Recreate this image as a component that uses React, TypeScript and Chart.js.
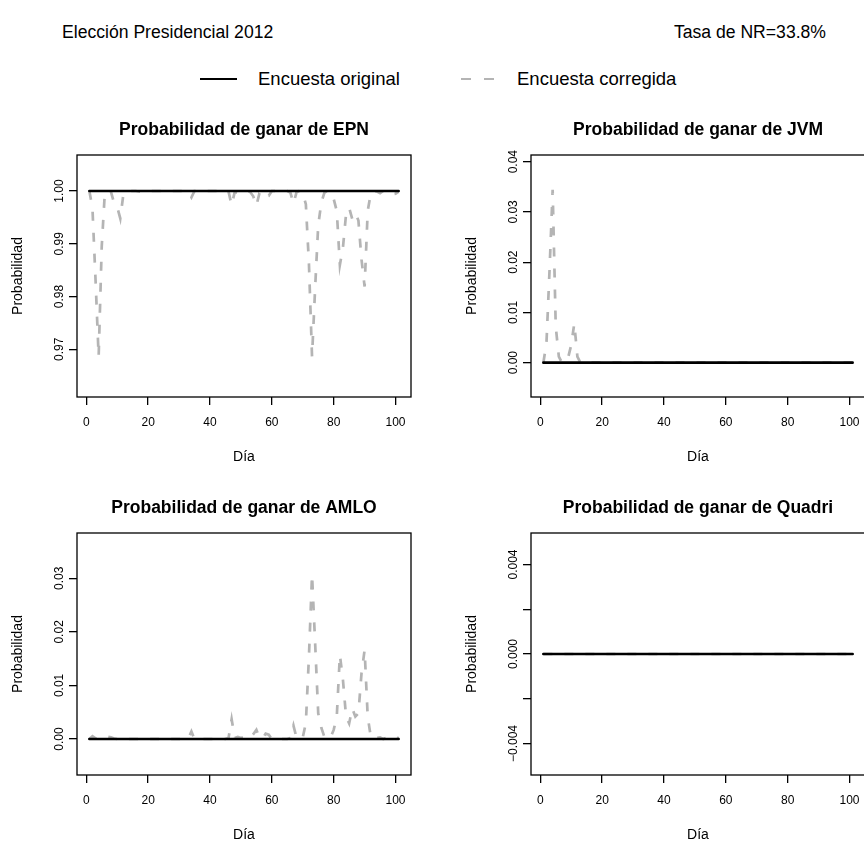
import React, { useEffect, useRef } from 'react';
import { Chart, registerables } from 'chart.js';

Chart.register(...registerables);

const FAMILY = '"Liberation Sans", Arial, Helvetica, sans-serif';
const GRAY = '#B4B4B4';

const HEADER_LEFT = 'Elección Presidencial 2012';
const HEADER_RIGHT = 'Tasa de NR=33.8%';
const SERIES_NAMES = ['Encuesta original', 'Encuesta corregida'];
const X_TITLE = 'Día';
const Y_TITLE = 'Probabilidad';

// Day index 1..101
const DAYS = Array.from({ length: 101 }, (_, i) => i + 1);
const X_TICKS = [0, 20, 40, 60, 80, 100];

const EPN_ORIGINAL = [
  1, 1, 1, 1, 1, 1, 1, 1, 1, 1, 1, 1, 1, 1, 1, 1, 1, 1, 1, 1,
  1, 1, 1, 1, 1, 1, 1, 1, 1, 1, 1, 1, 1, 1, 1, 1, 1, 1, 1, 1,
  1, 1, 1, 1, 1, 1, 1, 1, 1, 1, 1, 1, 1, 1, 1, 1, 1, 1, 1, 1,
  1, 1, 1, 1, 1, 1, 1, 1, 1, 1, 1, 1, 1, 1, 1, 1, 1, 1, 1, 1,
  1, 1, 1, 1, 1, 1, 1, 1, 1, 1, 1, 1, 1, 1, 1, 1, 1, 1, 1, 1,
  1,
];
const EPN_CORREGIDA = [
  1.0000, 0.9967, 0.9831, 0.9686, 0.9895, 0.9997, 1.0000, 0.9998, 0.9977, 0.9970,
  0.9948, 0.9994, 1.0000, 1.0000, 1.0000, 1.0000, 0.9999, 0.9998, 0.9999, 0.9998,
  1.0000, 1.0000, 1.0000, 1.0000, 1.0000, 1.0000, 1.0000, 1.0000, 1.0000, 1.0000,
  1.0000, 1.0000, 0.9998, 0.9988, 1.0000, 1.0000, 1.0000, 1.0000, 1.0000, 1.0000,
  1.0000, 1.0000, 1.0000, 1.0000, 1.0000, 0.9999, 0.9973, 0.9998, 0.9997, 0.9998,
  0.9997, 1.0000, 0.9998, 0.9990, 0.9972, 0.9996, 1.0000, 0.9992, 0.9991, 1.0000,
  1.0000, 1.0000, 1.0000, 1.0000, 1.0000, 0.9997, 0.9976, 0.9998, 1.0000, 0.9996,
  0.9975, 0.9862, 0.9686, 0.9816, 0.9935, 0.9978, 0.9997, 1.0000, 0.9997, 0.9985,
  0.9962, 0.9860, 0.9893, 0.9956, 0.9968, 0.9947, 0.9958, 0.9944, 0.9870, 0.9819,
  0.9962, 0.9996, 1.0000, 0.9999, 0.9996, 1.0000, 0.9998, 0.9997, 0.9994, 0.9995,
  0.9999,
];

const JVM_ORIGINAL = [
  0, 0, 0, 0, 0, 0, 0, 0, 0, 0, 0, 0, 0, 0, 0, 0, 0, 0, 0, 0,
  0, 0, 0, 0, 0, 0, 0, 0, 0, 0, 0, 0, 0, 0, 0, 0, 0, 0, 0, 0,
  0, 0, 0, 0, 0, 0, 0, 0, 0, 0, 0, 0, 0, 0, 0, 0, 0, 0, 0, 0,
  0, 0, 0, 0, 0, 0, 0, 0, 0, 0, 0, 0, 0, 0, 0, 0, 0, 0, 0, 0,
  0, 0, 0, 0, 0, 0, 0, 0, 0, 0, 0, 0, 0, 0, 0, 0, 0, 0, 0, 0,
  0,
];
const JVM_CORREGIDA = [
  0.0000, 0.0039, 0.0185, 0.0344, 0.0072, 0.0012, 0.0000, 0.0003, 0.0010, 0.0035,
  0.0078, 0.0012, 0.0000, 0, 0, 0, 0, 0, 0, 0,
  0, 0, 0, 0, 0, 0, 0, 0, 0, 0, 0, 0, 0, 0, 0, 0, 0, 0, 0, 0,
  0, 0, 0, 0, 0, 0, 0, 0, 0, 0, 0, 0, 0, 0, 0, 0, 0, 0, 0, 0,
  0, 0, 0, 0, 0, 0, 0, 0, 0, 0, 0, 0, 0, 0, 0, 0, 0, 0, 0, 0,
  0, 0, 0, 0, 0, 0, 0, 0, 0, 0, 0, 0, 0, 0, 0, 0, 0, 0, 0, 0,
  0,
];

const AMLO_ORIGINAL = [
  0, 0, 0, 0, 0, 0, 0, 0, 0, 0, 0, 0, 0, 0, 0, 0, 0, 0, 0, 0,
  0, 0, 0, 0, 0, 0, 0, 0, 0, 0, 0, 0, 0, 0, 0, 0, 0, 0, 0, 0,
  0, 0, 0, 0, 0, 0, 0, 0, 0, 0, 0, 0, 0, 0, 0, 0, 0, 0, 0, 0,
  0, 0, 0, 0, 0, 0, 0, 0, 0, 0, 0, 0, 0, 0, 0, 0, 0, 0, 0, 0,
  0, 0, 0, 0, 0, 0, 0, 0, 0, 0, 0, 0, 0, 0, 0, 0, 0, 0, 0, 0,
  0,
];
const AMLO_CORREGIDA = [
  0.0000, 0.0005, 0.0001, 0.0000, 0.0000, 0.0002, 0.0004, 0.0003, 0.0001, 0.0000,
  0, 0, 0, 0, 0, 0, 0, 0, 0, 0,
  0, 0, 0, 0, 0, 0, 0, 0, 0, 0,
  0, 0, 0.0001, 0.0014, 0, 0, 0, 0, 0, 0,
  0, 0, 0, 0, 0, 0.0002, 0.0037, 0.0002, 0.0004, 0.0002,
  0.0003, 0.0000, 0.0002, 0.0009, 0.0017, 0.0002, 0.0001, 0.0010, 0.0008, 0.0000,
  0, 0, 0, 0, 0, 0.0002, 0.0025, 0.0002, 0.0000, 0.0003,
  0.0030, 0.0154, 0.0307, 0.0179, 0.0048, 0.0021, 0.0004, 0.0000, 0.0003, 0.0017,
  0.0042, 0.0157, 0.0110, 0.0042, 0.0029, 0.0057, 0.0042, 0.0048, 0.0123, 0.0166,
  0.0042, 0.0004, 0.0000, 0.0002, 0.0003, 0.0000, 0.0002, 0.0004, 0.0006, 0.0005,
  0.0001,
];

const QUADRI_ORIGINAL = [
  0, 0, 0, 0, 0, 0, 0, 0, 0, 0, 0, 0, 0, 0, 0, 0, 0, 0, 0, 0,
  0, 0, 0, 0, 0, 0, 0, 0, 0, 0, 0, 0, 0, 0, 0, 0, 0, 0, 0, 0,
  0, 0, 0, 0, 0, 0, 0, 0, 0, 0, 0, 0, 0, 0, 0, 0, 0, 0, 0, 0,
  0, 0, 0, 0, 0, 0, 0, 0, 0, 0, 0, 0, 0, 0, 0, 0, 0, 0, 0, 0,
  0, 0, 0, 0, 0, 0, 0, 0, 0, 0, 0, 0, 0, 0, 0, 0, 0, 0, 0, 0,
  0,
];
const QUADRI_CORREGIDA = [
  0, 0, 0, 0, 0, 0, 0, 0, 0, 0, 0, 0, 0, 0, 0, 0, 0, 0, 0, 0,
  0, 0, 0, 0, 0, 0, 0, 0, 0, 0, 0, 0, 0, 0, 0, 0, 0, 0, 0, 0,
  0, 0, 0, 0, 0, 0, 0, 0, 0, 0, 0, 0, 0, 0, 0, 0, 0, 0, 0, 0,
  0, 0, 0, 0, 0, 0, 0, 0, 0, 0, 0, 0, 0, 0, 0, 0, 0, 0, 0, 0,
  0, 0, 0, 0, 0, 0, 0, 0, 0, 0, 0, 0, 0, 0, 0, 0, 0, 0, 0, 0,
  0,
];

const EPN_Y_TICKS = [0.97, 0.98, 0.99, 1.0];
const EPN_Y_LABELS = ['0.97', '0.98', '0.99', '1.00'];
const JVM_Y_TICKS = [0, 0.01, 0.02, 0.03, 0.04];
const JVM_Y_LABELS = ['0.00', '0.01', '0.02', '0.03', '0.04'];
const AMLO_Y_TICKS = [0, 0.01, 0.02, 0.03];
const AMLO_Y_LABELS = ['0.00', '0.01', '0.02', '0.03'];
const QUADRI_Y_TICKS = [-0.004, -0.002, 0, 0.002, 0.004];
const QUADRI_Y_LABELS = ['\u22120.004', '', '0.000', '', '0.004'];

const boxPlugin = {
  id: 'panelBox',
  afterDraw(chart: any) {
    const { ctx, chartArea: a } = chart;
    ctx.save();
    ctx.strokeStyle = '#000';
    ctx.lineWidth = 1.3;
    ctx.strokeRect(a.left, a.top, a.right - a.left, a.bottom - a.top);
    ctx.restore();
  },
};

type PanelProps = {
  title: string;
  original: number[];
  corrected: number[];
  yMin: number;
  yMax: number;
  yTicks: number[];
  yLabels: string[];
  left: number;
  top: number;
};

const CANVAS_W = 454;
const CANVAS_H = 370;
const TICK_SIZE = 12;
const LAB_SIZE = 14;
const MAIN_SIZE = 17.5;

function Panel(p: PanelProps) {
  const ref = useRef<HTMLCanvasElement>(null);
  useEffect(() => {
    const canvas = ref.current!;
    const m = document.createElement('canvas').getContext('2d')!;
    m.font = `normal ${TICK_SIZE}px ${FAMILY}`;
    const widest = Math.max(...p.yLabels.map((l) => m.measureText(l).width));
    const tickFont = { family: FAMILY, size: TICK_SIZE };
    const labFont = { family: FAMILY, size: LAB_SIZE };
    const chart = new Chart(canvas, {
      type: 'line',
      data: {
        datasets: [
          {
            label: SERIES_NAMES[0],
            data: DAYS.map((d, i) => ({ x: d, y: p.original[i] })),
            borderColor: '#000',
            borderWidth: 2.7,
            pointRadius: 0,
            tension: 0,
            borderCapStyle: 'round',
          },
          {
            label: SERIES_NAMES[1],
            data: DAYS.map((d, i) => ({ x: d, y: p.corrected[i] })),
            borderColor: GRAY,
            borderWidth: 2.7,
            borderDash: [9, 12],
            pointRadius: 0,
            tension: 0,
          },
        ],
      },
      options: {
        responsive: false,
        animation: false,
        events: [],
        layout: { padding: { left: 0, right: 43, top: 0, bottom: 0 } },
        plugins: {
          legend: { display: false },
          tooltip: { enabled: false },
          title: {
            display: true,
            fullSize: false,
            text: p.title,
            color: '#000',
            font: { family: FAMILY, size: MAIN_SIZE, weight: 'bold', lineHeight: 1.2 },
            padding: { top: 9.5, bottom: 14.5 },
          },
        },
        scales: {
          x: {
            type: 'linear',
            min: -3,
            max: 105,
            afterFit: (s: any) => {
              s.height = 83;
            },
            afterBuildTicks: (s: any) => {
              s.ticks = X_TICKS.map((v) => ({ value: v }));
            },
            ticks: {
              autoSkip: false,
              minRotation: 0,
              maxRotation: 0,
              padding: 10.8,
              color: '#000',
              font: tickFont,
              callback: (v: any) => String(v),
            },
            grid: {
              display: true,
              drawOnChartArea: false,
              drawTicks: true,
              tickLength: 8,
              color: '#000',
              lineWidth: 1.3,
            },
            border: { display: false },
            title: {
              display: true,
              text: X_TITLE,
              color: '#000',
              font: labFont,
              padding: { top: 0, bottom: 14.6 },
            },
          },
          y: {
            type: 'linear',
            min: p.yMin,
            max: p.yMax,
            afterFit: (s: any) => {
              s.width = 77;
            },
            afterBuildTicks: (s: any) => {
              s.ticks = p.yTicks.map((v) => ({ value: v }));
            },
            ticks: {
              autoSkip: false,
              minRotation: 90,
              maxRotation: 90,
              crossAlign: 'center',
              padding: 17 - 8 - widest / 2,
              color: '#000',
              font: tickFont,
              callback: (v: any) => {
                const i = p.yTicks.findIndex((t) => Math.abs(t - v) < 1e-9);
                return i >= 0 ? p.yLabels[i] : '';
              },
            },
            grid: {
              display: true,
              drawOnChartArea: false,
              drawTicks: true,
              tickLength: 8,
              color: '#000',
              lineWidth: 1.3,
            },
            border: { display: false },
            title: {
              display: true,
              text: Y_TITLE,
              color: '#000',
              font: labFont,
              padding: { top: 9.6, bottom: 0 },
            },
          },
        },
      } as any,
      plugins: [boxPlugin],
    });
    return () => chart.destroy();
  }, []);
  return (
    <canvas
      ref={ref}
      width={CANVAS_W}
      height={CANVAS_H}
      style={{ position: 'absolute', left: p.left, top: p.top, width: CANVAS_W, height: CANVAS_H }}
    />
  );
}

export default function App() {
  const text: React.CSSProperties = {
    position: 'absolute',
    fontSize: 17.6,
    lineHeight: '20px',
    color: '#000',
    whiteSpace: 'nowrap',
  };
  const legendText: React.CSSProperties = { ...text, fontSize: 18.5 };
  return (
    <div
      style={{
        position: 'absolute',
        left: 0,
        top: 0,
        width: 864,
        height: 844,
        overflow: 'hidden',
        background: '#fff',
        fontFamily: FAMILY,
      }}
    >
      <div style={{ ...text, left: 62, top: 22 }}>{HEADER_LEFT}</div>
      <div style={{ ...text, right: 38, top: 22 }}>{HEADER_RIGHT}</div>

      <div style={{ position: 'absolute', left: 200, top: 77.6, width: 37, height: 2.7, background: '#000' }} />
      <div style={{ ...legendText, left: 258, top: 69 }}>{SERIES_NAMES[0]}</div>
      <div
        style={{
          position: 'absolute',
          left: 461,
          top: 77.6,
          width: 33,
          height: 2.7,
          background: `repeating-linear-gradient(to right, ${GRAY} 0px, ${GRAY} 10px, transparent 10px, transparent 23px)`,
        }}
      />
      <div style={{ ...legendText, left: 517, top: 69 }}>{SERIES_NAMES[1]}</div>

      <Panel title="Probabilidad de ganar de EPN" original={EPN_ORIGINAL} corrected={EPN_CORREGIDA}
        yMin={0.96096} yMax={1.00682} yTicks={EPN_Y_TICKS} yLabels={EPN_Y_LABELS} left={0} top={110} />
      <Panel title="Probabilidad de ganar de JVM" original={JVM_ORIGINAL} corrected={JVM_CORREGIDA}
        yMin={-0.00683} yMax={0.04133} yTicks={JVM_Y_TICKS} yLabels={JVM_Y_LABELS} left={454} top={110} />
      <Panel title="Probabilidad de ganar de AMLO" original={AMLO_ORIGINAL} corrected={AMLO_CORREGIDA}
        yMin={-0.00672} yMax={0.03846} yTicks={AMLO_Y_TICKS} yLabels={AMLO_Y_LABELS} left={0} top={488} />
      <Panel title="Probabilidad de ganar de Quadri" original={QUADRI_ORIGINAL} corrected={QUADRI_CORREGIDA}
        yMin={-0.005408} yMax={0.005408} yTicks={QUADRI_Y_TICKS} yLabels={QUADRI_Y_LABELS} left={454} top={488} />
    </div>
  );
}
